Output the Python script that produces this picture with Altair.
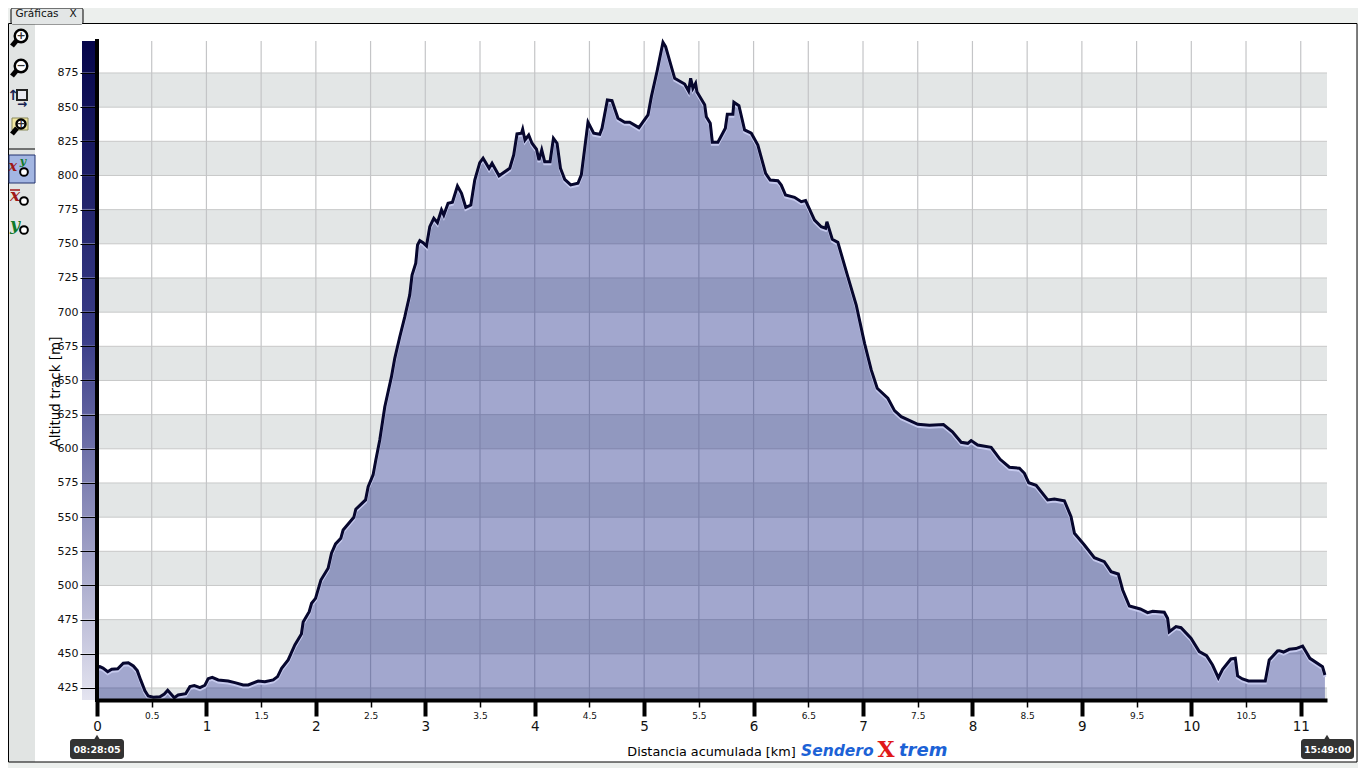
import altair as alt
import pandas as pd

# Track profile
km = [0,.025,.055,.098,.134,.189,.240,.286,.332,.368,.399,.438,.468,.514,.575,.615,.646,.676,.706,.742,.810,.849,.889,.941,.986,
1.016,1.053,1.108,1.199,1.260,1.336,1.382,1.473,1.534,1.610,1.650,1.687,1.747,1.808,1.868,1.884,1.939,1.961,1.997,
2.046,2.112,2.143,2.180,2.228,2.249,2.347,2.365,2.454,2.478,2.523,2.548,2.584,2.630,2.691,2.721,2.767,2.813,2.858,2.879,2.913,2.929,2.950,2.980,
3.011,3.041,3.078,3.111,3.148,3.169,3.208,3.248,3.294,3.331,3.370,3.416,3.452,3.498,3.528,3.583,3.610,3.674,3.772,3.808,3.838,3.879,3.890,3.911,3.945,3.975,
4.016,4.039,4.064,4.091,4.140,4.171,4.204,4.235,4.274,4.329,4.395,4.426,4.487,4.539,4.594,4.615,4.664,4.706,4.761,4.822,4.868,4.952,
5.035,5.066,5.117,5.172,5.196,5.279,5.370,5.406,5.425,5.446,5.470,5.482,5.553,5.568,5.604,5.623,5.674,5.742,5.760,5.811,5.820,5.866,5.918,5.979,
6.039,6.110,6.152,6.222,6.253,6.292,6.374,6.436,6.475,6.557,6.618,6.658,6.670,6.719,6.770,6.861,6.938,
7.014,7.075,7.130,7.227,7.288,7.349,7.501,7.607,7.735,7.817,7.897,7.957,7.988,
8.048,8.171,8.253,8.338,8.429,8.475,8.514,8.582,8.688,8.749,8.840,8.901,8.932,
9.023,9.114,9.205,9.267,9.333,9.373,9.434,9.534,9.601,9.647,9.753,9.783,9.799,9.860,9.906,9.997,
10.073,10.140,10.194,10.247,10.286,10.362,10.402,10.423,10.468,10.523,10.676,10.712,10.788,10.804,10.843,10.895,10.956,
11.017,11.084,11.199,11.221]
alt_m = [440.4,440.6,439.6,436.9,438.7,439.1,443.1,443.5,441.1,437.7,430.9,423.0,419.1,418.2,418.6,420.6,423.3,420.6,417.9,419.9,420.8,426.0,426.7,425.2,427.0,
431.8,432.8,430.9,430.1,428.9,427.2,427.2,430.1,429.6,430.9,433.3,439.4,445.5,456.5,464.5,473.3,480.8,487.0,490.6,
504.0,512.6,523.6,530.4,534.5,540.6,549.9,555.8,562.6,572.3,580.9,591.8,606.5,630.8,652.8,666.2,682.0,696.7,712.6,727.2,735.8,749.1,752.3,750.8,
748.4,762.5,768.7,765.5,774.8,771.1,779.7,780.4,792.3,787.0,776.7,778.4,796.7,809.4,812.6,805.3,808.9,799.8,805.3,815.0,830.4,830.9,833.8,826.0,829.6,823.6,
819.2,811.3,818.7,810.1,810.1,827.2,823.6,805.3,797.2,793.1,794.3,800.4,838.9,830.9,830.1,834.5,855.2,854.7,841.8,838.9,838.9,835.0,
844.3,857.7,875.9,897.5,894.3,871.1,866.9,861.8,871.1,863.8,867.4,861.3,851.7,843.0,838.2,824.3,824.3,834.5,844.8,844.8,853.6,851.1,833.3,830.9,
822.3,801.6,796.7,796.2,793.0,785.7,784.0,780.8,781.6,767.4,762.5,761.4,766.2,753.3,751.1,726.0,705.2,
677.2,657.7,644.3,637.0,627.9,623.5,617.9,617.2,617.8,612.5,604.8,604.0,606.0,
602.8,601.1,592.3,586.5,585.8,582.1,575.2,573.3,562.6,563.3,562.0,550.3,538.2,
529.6,520.3,517.4,510.1,508.4,496.7,485.0,482.8,480.1,481.1,480.4,476.0,466.2,469.9,469.1,461.4,
451.6,448.6,441.8,432.5,438.7,446.2,446.7,433.8,431.6,430.1,430.1,445.5,452.1,452.3,451.3,453.3,453.8,
455.7,446.7,440.6,434.5]

y_ticks = list(range(425, 900, 25))
band_lo = [416.2, 450, 500, 550, 600, 650, 700, 750, 800, 850]
band_hi = [425, 475, 525, 575, 625, 675, 725, 775, 825, 875]
x_major = list(range(0, 12))
x_minor = [0.5, 1.5, 2.5, 3.5, 4.5, 5.5, 6.5, 7.5, 8.5, 9.5, 10.5]
x_grid = [v * 0.5 for v in range(1, 23)]
X_MAX, Y_MIN, Y_MAX = 11.24, 416.2, 898.4
OX, OY = 97, 41
RIGHT = 1357

profile = pd.DataFrame({"km": km, "alt": alt_m})
one = pd.DataFrame({"a": [0]})
xs = alt.Scale(domain=[0, X_MAX], nice=False, zero=False)
ys = alt.Scale(domain=[Y_MIN, Y_MAX], nice=False, zero=False)
FONT = "DejaVu Sans"


def rect(x0, y0, x1, y1, **kw):
    return alt.Chart(one).mark_rect(**kw).encode(
        x=alt.value(x0 - OX), x2=alt.value(x1 - OX), y=alt.value(y0 - OY), y2=alt.value(y1 - OY))


def line(x0, y0, x1, y1, color="black", w=1):
    return alt.Chart(one).mark_rule(color=color, strokeWidth=w).encode(
        x=alt.value(x0 - OX), x2=alt.value(x1 - OX), y=alt.value(y0 - OY), y2=alt.value(y1 - OY))


def text(x, y, s, **kw):
    kw.setdefault("font", FONT)
    return alt.Chart(one).mark_text(**kw).encode(
        x=alt.value(x - OX), y=alt.value(y - OY), text=alt.value(s))


def dot(x, y, size, **kw):
    return alt.Chart(one).mark_point(**kw).encode(
        x=alt.value(x - OX), y=alt.value(y - OY), size=alt.value(size))


def lens(x, y, r=7, sign=None):
    parts = [
        line(x - 4, y + 4, x - 9, y + 10, "black", 5),
        dot(x, y, (2 * r) ** 2 * 0.8, shape="circle", filled=True, fill="white", stroke="black",
            strokeWidth=2.5, opacity=1),
    ]
    if sign:
        parts.append(text(x, y, sign, fontSize=11, fontWeight="bold", color="#333333"))
    return parts


deco = [
    rect(35, 24, RIGHT, 762, fill="white"),
    rect(9, 24, 35, 762, fill="#e1e4e3"),
    line(8.5, 23.5, RIGHT, 23.5), line(8.5, 23.5, 8.5, 762), line(8.5, 762, RIGHT, 762), line(RIGHT, 23.5, RIGHT, 762),
    rect(11, 8, 83, 24, fill="#e3e6e6", stroke="black", strokeWidth=1, cornerRadius=2),
    line(12, 23.5, 82, 23.5, "#e3e6e6", 1.5),
    text(37, 13.5, "Gráficas", fontSize=10.5, color="#111111"),
    text(73, 13.5, "X", fontSize=10.5, color="#111111"),
    line(9, 149, 35, 149, "black", 1),
    rect(9, 155, 35, 183, fill="#a3b6e2", stroke="#22336e", strokeWidth=1),
]
deco += lens(21, 36, sign="+") + lens(21, 66, sign="−")
deco += [
    rect(17, 90, 27, 100, fill="#e8e8f0", stroke="#222222", strokeWidth=2),
    text(13, 96, "↑", fontSize=14, fontWeight="bold", color="#14204f"),
    text(22, 104, "→", fontSize=12, fontWeight="bold", color="#14204f"),
    rect(12, 118, 28, 130, fill="#f0e6a0", stroke="#8a8a5a", strokeWidth=1),
]
deco += lens(21, 124, r=5, sign="+")
deco += [
    text(13, 167, "x", fontSize=14, fontWeight="bold", fontStyle="italic", font="DejaVu Serif", color="#a01818"),
    text(23, 162, "y", fontSize=11, fontWeight="bold", fontStyle="italic", font="DejaVu Serif", color="#0e7a2a"),
    text(15, 196, "x", fontSize=17, fontWeight="bold", fontStyle="italic", font="DejaVu Serif", color="#a01818"),
    text(15, 225, "y", fontSize=17, fontWeight="bold", fontStyle="italic", font="DejaVu Serif", color="#0e7a2a"),
    line(10, 190, 20, 190, "#a01818", 1.5),
]
for yy in (172, 201, 230):
    deco.append(dot(24, yy, 60, shape="circle", filled=True, fill="white", stroke="black", strokeWidth=2, opacity=1))

bands = alt.Chart(pd.DataFrame({"lo": band_lo, "hi": band_hi})).mark_rect(color="#e3e6e6").encode(
    x=alt.datum(0, scale=xs, axis=None), x2=alt.datum(X_MAX),
    y=alt.Y("lo:Q", scale=ys, axis=None), y2="hi:Q")
hgrid = alt.Chart(pd.DataFrame({"v": [v for v in y_ticks]})).mark_rule(color="#c8c9c9", strokeWidth=1).encode(
    y=alt.Y("v:Q", scale=ys, axis=None), x=alt.value(0), x2=alt.value(1230))
vgrid = alt.Chart(pd.DataFrame({"v": x_grid})).mark_rule(color="#c4c5c7", strokeWidth=1.2).encode(
    x=alt.X("v:Q", scale=xs, axis=None), y=alt.value(0), y2=alt.value(659))

area = alt.Chart(profile).mark_area(color="#162384", opacity=0.4, interpolate="linear").encode(
    x=alt.X("km:Q", scale=xs, axis=None),
    y=alt.Y("alt:Q", scale=ys, axis=alt.Axis(
        values=y_ticks, title=None, domain=False, grid=False, tickColor="black", tickSize=17, tickWidth=1,
        labelFont=FONT, labelFontSize=11, labelColor="#111111", labelPadding=2, orient="left", zindex=1,
        labelOverlap=False)),
    y2=alt.datum(Y_MIN))
halo = alt.Chart(profile).mark_line(color="#c6caee", strokeWidth=3, yOffset=2, interpolate="linear", clip=True).encode(
    x=alt.X("km:Q", scale=xs, axis=None), y=alt.Y("alt:Q", scale=ys, axis=None))
track = alt.Chart(profile).mark_line(color="#07072e", strokeWidth=3, interpolate="linear").encode(
    x=alt.X("km:Q", scale=xs, axis=alt.Axis(
        values=x_major, title=None, format="d", grid=False, domainColor="black", domainWidth=4,
        tickColor="black", tickSize=16, tickWidth=4, labelFont=FONT, labelFontSize=13.5, labelColor="#111111",
        labelPadding=3, orient="bottom", zindex=1, labelFlush=False, labelOverlap=False)),
    y=alt.Y("alt:Q", scale=ys, axis=None))
minor = alt.Chart(pd.DataFrame({"km": x_minor})).mark_point(opacity=0).encode(
    x=alt.X("km:Q", scale=xs, axis=alt.Axis(
        values=x_minor, title=None, format=".1f", grid=False, domain=False,
        tickColor="black", tickSize=7, tickWidth=1.5, labelFont=FONT, labelFontSize=9, labelColor="#111111",
        labelPadding=4, orient="bottom", zindex=1, labelOverlap=False)),
    y=alt.value(659))

grad = alt.LinearGradient(gradient="linear", x1=0, x2=0, y1=0, y2=1, stops=[
    alt.GradientStop(color="#05054a", offset=0),
    alt.GradientStop(color="#3a3d88", offset=0.45),
    alt.GradientStop(color="#e4e4f0", offset=1)])
bar = rect(82, 41, 96, 700, color=grad)
bar_ticks = alt.Chart(pd.DataFrame({"v": y_ticks})).mark_rule(color="white", strokeWidth=1.5, opacity=0.35).encode(
    y=alt.Y("v:Q", scale=ys, axis=None), x=alt.value(-15), x2=alt.value(-1))
y_line = line(97, 39, 97, 702, "black", 4)

labels = [
    alt.Chart(one).mark_text(font=FONT, fontSize=13.5, angle=270, color="black", fontWeight=500).encode(
        x=alt.value(56 - OX), y=alt.value(392 - OY), text=alt.value("Altitud track [m]")),
    text(711.5, 752, "Distancia acumulada [km]", fontSize=12.8, color="black"),
    text(801, 751, "Sendero", fontSize=15.5, fontWeight="bold", fontStyle="italic", color="#1c62d6", align="left"),
    text(886, 750, "X", fontSize=22, fontWeight="bold", color="#e01818", font="DejaVu Serif"),
    text(899, 751, "trem", fontSize=18, fontWeight="bold", fontStyle="italic", color="#1c62d6", align="left"),
]
for cx, x0, x1, t in [(97, 70, 124, "08:28:05"), (1327, 1301, 1354, "15:49:00")]:
    labels += [
        rect(x0, 739, x1, 759, fill="#333333", cornerRadius=3),
        dot(cx, 737, 30, shape="triangle-up", filled=True, fill="#333333", opacity=1),
        text((x0 + x1) / 2, 749.5, t, fontSize=9.5, fontWeight="bold", color="white"),
    ]

chart = alt.layer(
    *deco, bands, hgrid, vgrid, area, halo, minor, track, bar, bar_ticks, y_line, *labels
).resolve_axis(x="independent", y="independent").properties(
    width=1230, height=659,
    padding={"left": 89, "top": 33, "right": 31, "bottom": 68},
    autosize=alt.AutoSizeParams(type="none"),
    background="#ecefed",
).configure_view(stroke=None)

chart.save("out.html", embed_options={"renderer": "svg", "actions": False})
